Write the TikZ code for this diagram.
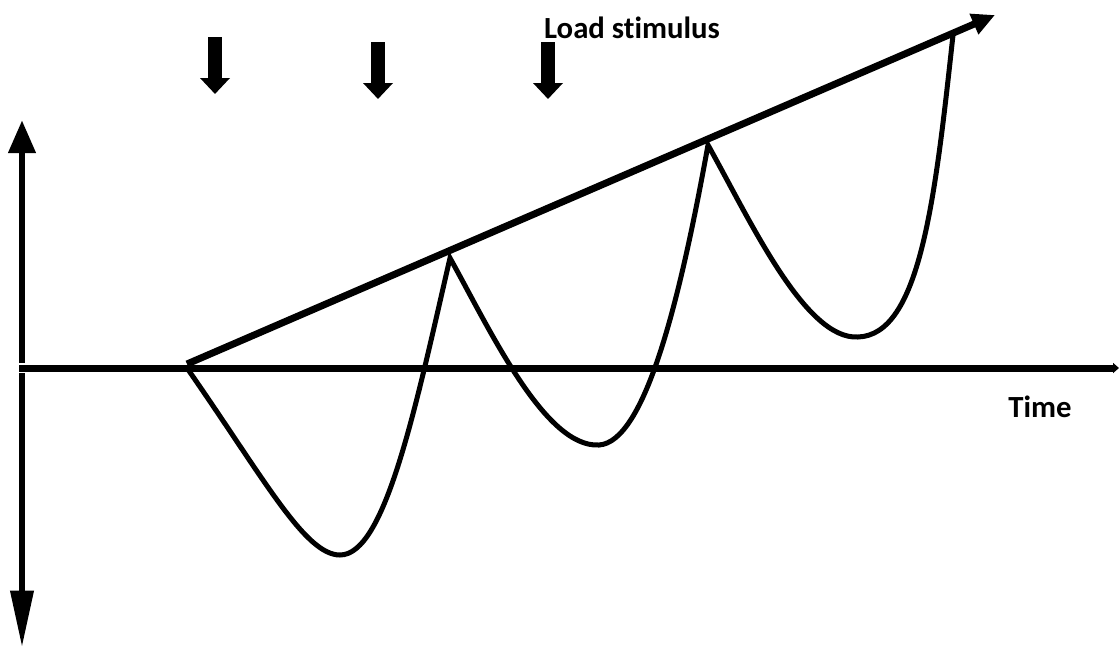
\documentclass[tikz,border=0pt]{standalone}
\usepackage{fontspec}
\setmainfont{Carlito}[Ligatures=NoCommon]
\usetikzlibrary{arrows.meta}
\tikzset{
  axis/.style={line width=0.14cm, line cap=butt},
  resp/.style={line width=0.1cm, line join=miter, miter limit=20},
  lbl/.style={font=\bfseries\fontsize{17.5}{20}\selectfont, inner sep=0pt},
  stim/.style={line width=0.28cm, -{Triangle[length=0.32cm,width=0.58cm]}},
}
\begin{document}
\begin{tikzpicture}[x=0.02cm,y=-0.02cm]
  \useasboundingbox (0,0) rectangle (1119,650);
  % axes
  \coordinate (O) at (22,368);
  \coordinate (yTop) at (22,120);
  \coordinate (yBot) at (22,648);
  \coordinate (xEnd) at (1119,368);
  \draw[axis,-{Triangle[length=0.66cm,width=0.52cm]}] ([yshift=0.1cm]O) -- (yTop);
  \draw[axis,-{Triangle[length=1.15cm,width=0.44cm]}] ([yshift=-0.1cm]O) -- (yBot);
  \draw[axis,-{Triangle[length=0.12cm,width=0.2cm]}] ([xshift=-0.06cm]O) -- (xEnd);
  \node[lbl] (time) at (1040,407) {Time};

  % load trend
  \coordinate (t0) at (187,364);
  \coordinate (t1) at (995,15);
  \draw[axis,-{Triangle[length=0.46cm,width=0.42cm]}] (t0) -- (t1);
  \node[lbl] (load) at (632,28) {Load stimulus};

  % stimulus arrows
  \foreach \sx/\sy/\ey in {215/37/94, 378/42/99, 548/42/99}
    \draw[stim] (\sx,\sy) -- (\sx,\ey);

  % response
  \coordinate (r0) at (187,368);
  \coordinate (v1) at (340,555);
  \coordinate (p1) at (450,258);
  \coordinate (v2) at (599,445);
  \coordinate (p2) at (708,145);
  \coordinate (v3) at (858,337);
  \coordinate (r1) at (953,35);
  \draw[resp] (r0) .. controls (265,480) and (305,555) .. (v1)
    .. controls (385,555) and (415,410) .. (p1)
    .. controls (490,330) and (545,448) .. (v2)
    .. controls (645,442) and (680,300) .. (p2)
    .. controls (750,220) and (805,340) .. (v3)
    .. controls (920,335) and (935,200) .. (r1);
\end{tikzpicture}
\end{document}
